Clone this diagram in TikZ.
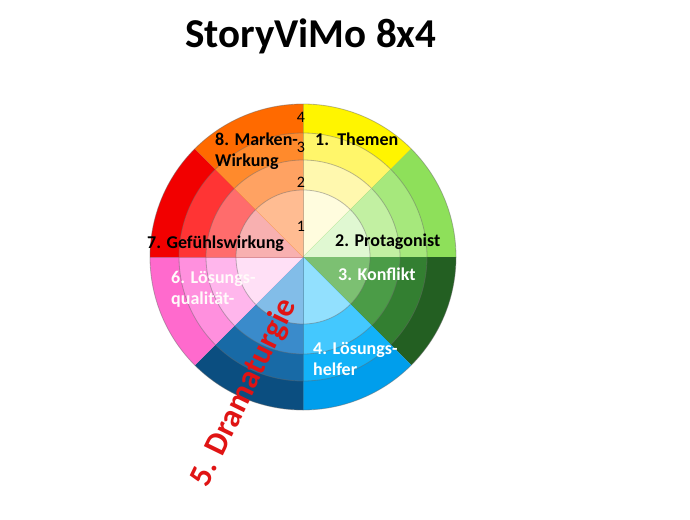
\documentclass[tikz,border=0pt]{standalone}
\usepackage{fontspec}
\setmainfont{Carlito}
\usepackage{tikz}

\definecolor{s1r4}{HTML}{FFF500}\definecolor{s1r3}{HTML}{FFF66A}\definecolor{s1r2}{HTML}{FFF8AE}\definecolor{s1r1}{HTML}{FFFCDE}
\definecolor{s2r4}{HTML}{8EE05A}\definecolor{s2r3}{HTML}{A6E87C}\definecolor{s2r2}{HTML}{C2F0A2}\definecolor{s2r1}{HTML}{E0F8D2}
\definecolor{s3r4}{HTML}{235F22}\definecolor{s3r3}{HTML}{337F31}\definecolor{s3r2}{HTML}{4B9C47}\definecolor{s3r1}{HTML}{7CC072}
\definecolor{s4r4}{HTML}{009EEC}\definecolor{s4r3}{HTML}{12B2F8}\definecolor{s4r2}{HTML}{44C8FE}\definecolor{s4r1}{HTML}{92E0FE}
\definecolor{s5r4}{HTML}{0B4E80}\definecolor{s5r3}{HTML}{186AA6}\definecolor{s5r2}{HTML}{3A8BCB}\definecolor{s5r1}{HTML}{82BDE8}
\definecolor{s6r4}{HTML}{FF6ACD}\definecolor{s6r3}{HTML}{FF90DE}\definecolor{s6r2}{HTML}{FFB6EC}\definecolor{s6r1}{HTML}{FFE0F6}
\definecolor{s7r4}{HTML}{F20000}\definecolor{s7r3}{HTML}{FF3434}\definecolor{s7r2}{HTML}{FF6C6C}\definecolor{s7r1}{HTML}{F8B0B0}
\definecolor{s8r4}{HTML}{FF6A00}\definecolor{s8r3}{HTML}{FF8A2C}\definecolor{s8r2}{HTML}{FFA262}\definecolor{s8r1}{HTML}{FFBC92}
\definecolor{dramared}{HTML}{E01414}

\begin{document}
\begin{tikzpicture}[x=1pt,y=1pt,
  lbl/.style={anchor=base west,inner sep=0pt,font=\fontsize{18}{21}\selectfont\bfseries,align=left},
  num/.style={inner sep=0pt,font=\fontsize{16}{16}\selectfont}]
\useasboundingbox (0,-519) rectangle (690,0);
\fill[white] (0,-519) rectangle (690,0);
\coordinate (c) at (303,-257);

\foreach \s in {1,...,8}{
  \pgfmathsetmacro{\a}{90-45*\s}
  \foreach \r/\rad in {4/153,3/124,2/97,1/67}{
    \fill[s\s r\r] (c) -- ++(\a:\rad) arc[start angle=\a, end angle=\a+45, radius=\rad] -- cycle;
    \draw[black!60,opacity=.45,line width=.8pt] (c) ++(\a:\rad) arc[start angle=\a, end angle=\a+45, radius=\rad];
  }
  \draw[black!60,opacity=.35,line width=.6pt] (c) -- ++(\a:153);
}

\node[anchor=base west,inner sep=0pt,font=\fontsize{41}{41}\selectfont\bfseries] (title) at (185,-48) {StoryViMo 8x4};

\node[num] (n4) at (301,-117) {4};
\node[num] (n3) at (301,-147) {3};
\node[num] (n2) at (301,-182) {2};
\node[num] (n1) at (301,-226) {1};

\node[lbl] (themen) at (315,-145) {1.\ \ Themen};
\node[lbl] (protagonist) at (335,-246) {2. Protagonist};
\node[lbl,white] (konflikt) at (338,-280) {3. Konflikt};
\node[lbl,white,anchor=north west] (helfer) at (313,-342) {4. Lösungs-\\helfer};
\node[lbl,white!92!pink,anchor=north west] (qualitaet) at (171,-271) {6. Lösungs-\\qualität-};
\node[lbl] (gefuehl) at (147,-248) {7. Gefühlswirkung};
\node[lbl,anchor=north west] (marken) at (215,-133) {8. Marken-\\Wirkung};

\node[anchor=base west,inner sep=0pt,rotate=64,text=dramared,font=\fontsize{32.6}{33}\selectfont\bfseries] (drama) at (207,-489) {5. Dramaturgie};
\end{tikzpicture}
\end{document}
